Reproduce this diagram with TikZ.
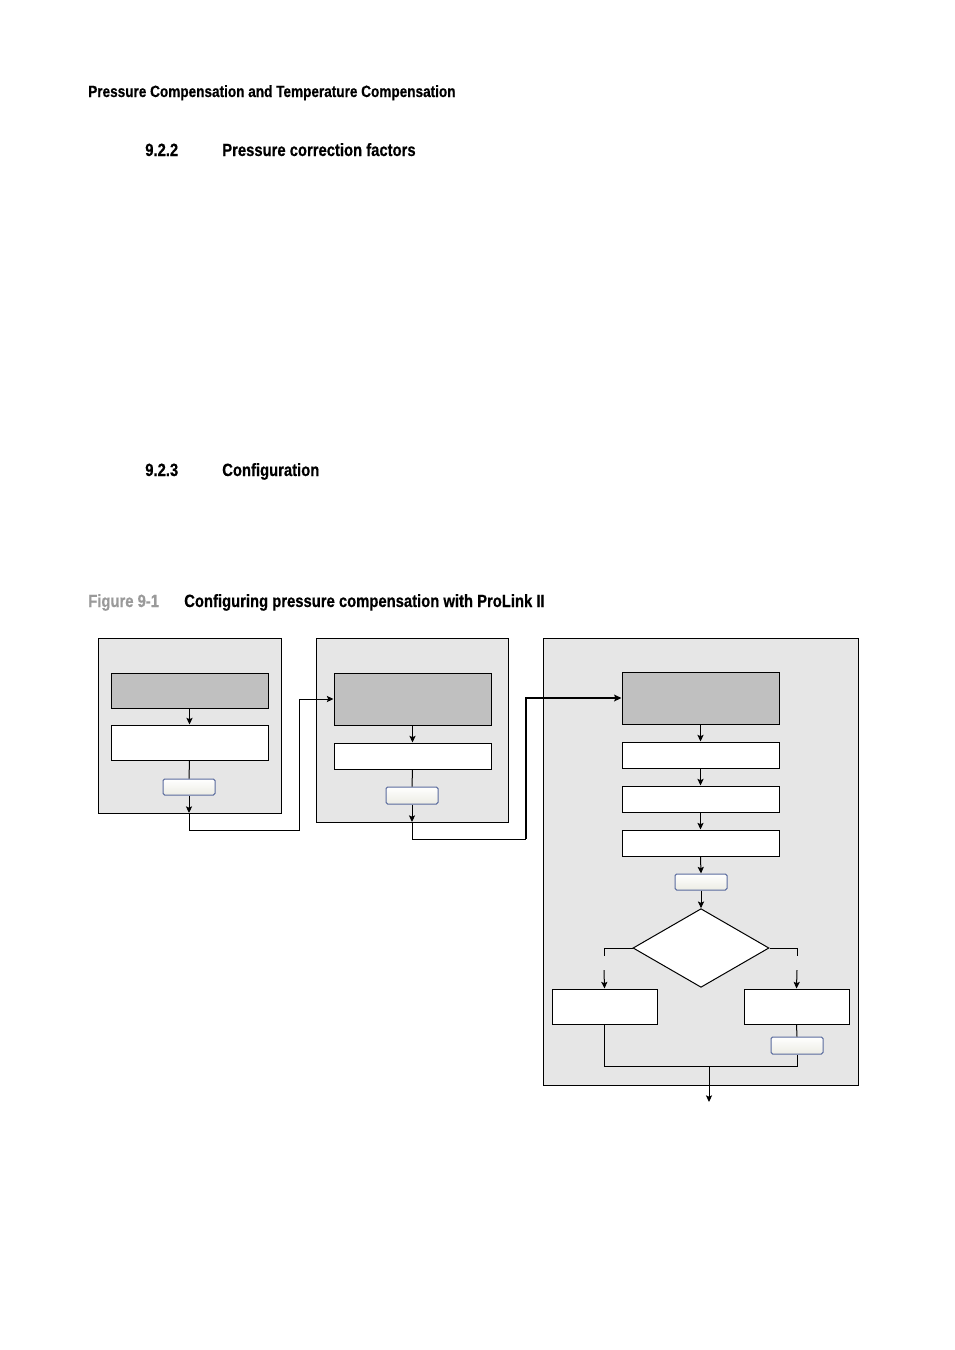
\documentclass[tikz,border=0pt]{standalone}
\usepackage{fontspec}
\setmainfont{Liberation Sans}
\newfontfamily\hfont{Liberation Sans}[FakeStretch=0.835,FakeBold=0.5]
\usetikzlibrary{arrows.meta,shapes.geometric,fit}
\definecolor{panelgray}{HTML}{E6E6E6}
\definecolor{darkgray}{HTML}{C0C0C0}
\definecolor{btnborder}{HTML}{5A6B9E}
\definecolor{btnlow}{HTML}{ECECE4}
\definecolor{figgray}{HTML}{9A9A9A}
\begin{document}
\begin{tikzpicture}[x=0.75pt,y=-0.75pt,
  panel/.style={draw=black,fill=panelgray,line width=0.75pt,inner sep=0pt},
  darkbox/.style={draw=black,fill=darkgray,line width=0.75pt,inner sep=0pt},
  whitebox/.style={draw=black,fill=white,line width=0.75pt,inner sep=0pt},
  btn/.style={draw=btnborder,top color=white,bottom color=btnlow,line width=0.75pt,rounded corners=1.2pt,inner sep=0pt},
  dec/.style={draw=black,fill=white,line width=0.75pt,diamond,inner sep=0pt,minimum width=102pt,minimum height=59pt},
  conn/.style={line width=0.75pt,black},
  arr/.style={conn,-{Stealth[length=5pt,width=4.6pt,inset=1pt]}},
  thickarr/.style={line width=1.6pt,black,-{Stealth[length=5.5pt,width=5pt,inset=1pt]}},
  hdr/.style={anchor=base west,inner sep=0pt,font=\hfont\bfseries\fontsize{12.2pt}{14pt}\selectfont},
  sec/.style={anchor=base west,inner sep=0pt,font=\hfont\bfseries\fontsize{13.3pt}{15pt}\selectfont},
]
\useasboundingbox[fill=white] (0,0) rectangle (954,1350);

% texts
\node[hdr] (header) at (88,97) {Pressure Compensation and Temperature Compensation};
\node[sec] (s922n) at (145,156) {9.2.2};
\node[sec] (s922t) at (222,156) {Pressure correction factors};
\node[sec] (s923n) at (145,476) {9.2.3};
\node[sec] (s923t) at (222,476) {Configuration};
\node[sec,text=figgray] (fign) at (88,607) {Figure 9-1};
\node[sec] (figt) at (184,607) {Configuring pressure compensation with ProLink II};

% panels
\node[panel,fit={(98,638) (281,813)}] (p1) {};
\node[panel,fit={(316,638) (508,822)}] (p2) {};
\node[panel,fit={(543,638) (858,1085)}] (p3) {};

% panel 1
\node[darkbox,fit={(111,673) (268,708)}] (d1) {};
\node[whitebox,fit={(111,725) (268,760)}] (w1) {};
\node[btn,fit={(163,779) (215,795)}] (b1) {};

% panel 2
\node[darkbox,fit={(334,673) (491,725)}] (d2) {};
\node[whitebox,fit={(334,743) (491,769)}] (w2) {};
\node[btn,fit={(386,787) (438,804)}] (b2) {};

% panel 3
\node[darkbox,fit={(622,672) (779,724)}] (d3) {};
\node[whitebox,fit={(622,742) (779,768)}] (w3a) {};
\node[whitebox,fit={(622,786) (779,812)}] (w3b) {};
\node[whitebox,fit={(622,830) (779,856)}] (w3c) {};
\node[btn,fit={(675,874) (727,890)}] (b3) {};
\node[dec] (dia) at (701,948) {};
\node[whitebox,fit={(552,989) (657,1024)}] (lb) {};
\node[whitebox,fit={(744,989) (849,1024)}] (rb) {};
\node[btn,fit={(771,1037) (823,1054)}] (rbtn) {};

% coordinates
\coordinate (c1) at (189,813);
\coordinate (c1a) at (189,830);
\coordinate (c1b) at (299,830);
\coordinate (c1c) at (299,699);
\coordinate (c2) at (412,822);
\coordinate (c2a) at (412,839);
\coordinate (c2b) at (526,839);
\coordinate (c2c) at (526,698);
\coordinate (lt) at (604,956);
\coordinate (ls) at (604,970);
\coordinate (rt) at (797,956);
\coordinate (rs) at (797,970);
\coordinate (j) at (709,1066);
\coordinate (out) at (709,1102);

% connectors panel 1
\draw[arr] (d1.south) -- (w1.north);
\draw[conn] (w1.south) -- (b1.north);
\draw[arr] (b1.south) -- (c1);
\draw[conn] (c1) -- (c1a) -- (c1b) -- (c1c);
\draw[arr] (c1c) -- (c1c -| d2.west);

% connectors panel 2
\draw[arr] (d2.south) -- (w2.north);
\draw[conn] (w2.south) -- (b2.north);
\draw[arr] (b2.south) -- (c2);
\draw[conn] (c2) -- (c2a) -- (c2b);
\draw[thickarr] (c2b) -- (c2c) -- (c2c -| d3.west);

% connectors panel 3
\draw[arr] (d3.south) -- (w3a.north);
\draw[arr] (w3a.south) -- (w3b.north);
\draw[arr] (w3b.south) -- (w3c.north);
\draw[arr] (w3c.south) -- (b3.north);
\draw[arr] (b3.south) -- (dia.north);
\draw[conn] (dia.west) -| (lt);
\draw[arr] (ls) -- (lb.north);
\draw[conn] (dia.east) -| (rt);
\draw[arr] (rs) -- (rb.north);
\draw[conn] (rb.south) -- (rbtn.north);
\draw[conn] (lb.south) |- (j) -| (rbtn.south);
\draw[arr] (j) -- (out);
\end{tikzpicture}
\end{document}
